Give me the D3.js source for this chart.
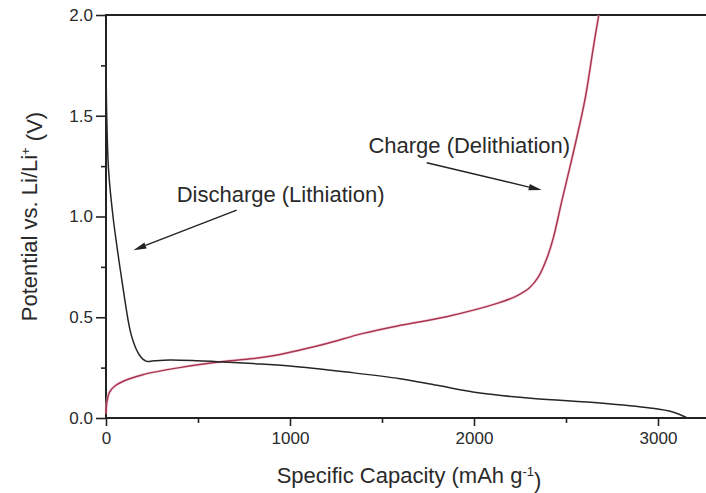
<!DOCTYPE html>
<html>
<head>
<meta charset="utf-8">
<script src="https://cdn.jsdelivr.net/npm/d3@7"></script>
<style>
  html, body { margin: 0; padding: 0; background: #fff; }
  svg { display: block; }
  text { font-family: "Liberation Sans", Arial, sans-serif; fill: #2a2a2a; }
</style>
</head>
<body>
<svg id="chart" width="706" height="493"></svg>
<script>
// Discharge (lithiation) curve: [capacity mAh/g, potential V]
const dischargeCurve = [
  [0, 1.78], [4, 1.5], [14, 1.23], [38, 1.0], [70, 0.784], [100, 0.6],
  [120, 0.486], [135, 0.42], [150, 0.375], [165, 0.34], [180, 0.315],
  [200, 0.292], [221, 0.281], [260, 0.284], [348, 0.288], [500, 0.284],
  [636, 0.278], [800, 0.27], [1000, 0.258], [1308, 0.228], [1598, 0.195],
  [1800, 0.162], [2033, 0.124], [2322, 0.097], [2685, 0.075],
  [2957, 0.05], [3080, 0.03], [3160, 0.0]
];

// Charge (delithiation) curve: [capacity mAh/g, potential V]
const chargeCurve = [
  [0, 0.02], [5, 0.08], [20, 0.13], [50, 0.16], [100, 0.185], [200, 0.215],
  [400, 0.25], [636, 0.28], [800, 0.295], [946, 0.315], [1054, 0.337],
  [1200, 0.37], [1397, 0.42], [1600, 0.46], [1851, 0.503],
  [2130, 0.57], [2230, 0.605], [2300, 0.645], [2350, 0.70], [2395, 0.79],
  [2430, 0.89], [2478, 1.08], [2543, 1.33], [2603, 1.58], [2647, 1.83],
  [2678, 2.0]
];

const xMajorTicks = [0, 1000, 2000, 3000];
const xMinorTicks = [500, 1500, 2500];
const yMajorTicks = [0.0, 0.5, 1.0, 1.5, 2.0];
const yMinorTicks = [0.25, 0.75, 1.25, 1.75];

// Annotation text and arrows in data units
const annotations = [
  { text: "Discharge (Lithiation)", tx: 384, ty: 1.073, from: [710, 1.032], to: [149, 0.833] },
  { text: "Charge (Delithiation)", tx: 1426, ty: 1.314, from: [1743, 1.267], to: [2368, 1.131] }
];

const svg = d3.select("#chart");
const x = d3.scaleLinear().domain([0, 3300]).range([106, 106 + 3300 * 0.184]);
const y = d3.scaleLinear().domain([0, 2]).range([418, 15]);

const axisColor = "#222";

// y axis (left)
svg.append("g").attr("transform", `translate(${x(0)},0)`)
  .call(d3.axisLeft(y).tickValues(yMajorTicks).tickFormat(d3.format(".1f")).tickSize(10).tickPadding(3));
svg.append("g").attr("transform", `translate(${x(0)},0)`)
  .call(d3.axisLeft(y).tickValues(yMinorTicks).tickFormat("").tickSize(5));

// x axis (bottom)
svg.append("g").attr("transform", `translate(0,${y(0)})`)
  .call(d3.axisBottom(x).tickValues(xMajorTicks).tickFormat(d3.format("d")).tickSize(8).tickPadding(6));
svg.append("g").attr("transform", `translate(0,${y(0)})`)
  .call(d3.axisBottom(x).tickValues(xMinorTicks).tickFormat("").tickSize(5));

svg.selectAll(".domain").remove();
svg.selectAll(".tick line").attr("stroke", axisColor).attr("stroke-width", 1.6);
svg.selectAll(".tick text").style("font-size", "17px").attr("fill", "#333")
  .style("font-family", "'Liberation Sans', Arial, sans-serif");

// frame lines: left, bottom, top
svg.append("line").attr("x1", x(0)).attr("x2", x(0)).attr("y1", y(2) - 1).attr("y2", y(0) + 1)
  .attr("stroke", axisColor).attr("stroke-width", 2);
svg.append("line").attr("x1", x(0) - 1).attr("x2", x(3300)).attr("y1", y(0)).attr("y2", y(0))
  .attr("stroke", axisColor).attr("stroke-width", 2);
svg.append("line").attr("x1", x(0) - 1).attr("x2", x(3300)).attr("y1", y(2)).attr("y2", y(2))
  .attr("stroke", axisColor).attr("stroke-width", 2);

// curves
const line = d3.line().x(d => x(d[0])).y(d => y(d[1])).curve(d3.curveCatmullRom.alpha(0.5));

svg.append("path").datum(chargeCurve)
  .attr("d", line).attr("fill", "none")
  .attr("stroke", "#f2b8c4").attr("stroke-width", 3).attr("stroke-opacity", 0.5);
svg.append("path").datum(chargeCurve)
  .attr("d", line).attr("fill", "none")
  .attr("stroke", "#a83452").attr("stroke-width", 1.5);

svg.append("path").datum(dischargeCurve)
  .attr("d", line).attr("fill", "none")
  .attr("stroke", "#262626").attr("stroke-width", 1.5);

// annotations with arrows
annotations.forEach(a => {
  svg.append("text").attr("x", x(a.tx)).attr("y", y(a.ty))
    .style("font-size", "22px").text(a.text);
  const x1 = x(a.from[0]), y1 = y(a.from[1]);
  const x2 = x(a.to[0]), y2 = y(a.to[1]);
  const ang = Math.atan2(y2 - y1, x2 - x1);
  const len = 13, half = 3.2;
  const bx = x2 - len * Math.cos(ang), by = y2 - len * Math.sin(ang);
  svg.append("line").attr("x1", x1).attr("y1", y1).attr("x2", bx).attr("y2", by)
    .attr("stroke", "#222").attr("stroke-width", 1.4);
  const px = -Math.sin(ang) * half, py = Math.cos(ang) * half;
  svg.append("path")
    .attr("d", `M${x2},${y2}L${bx + px},${by + py}L${bx - px},${by - py}Z`)
    .attr("fill", "#222");
});

// axis titles
const yTitle = svg.append("text")
  .attr("transform", `translate(37,${(y(0) + y(2)) / 2}) rotate(-90)`)
  .attr("text-anchor", "middle").style("font-size", "22px");
yTitle.append("tspan").text("Potential vs. Li/Li");
yTitle.append("tspan").attr("dy", "-0.55em").style("font-size", "13px").text("+");
yTitle.append("tspan").attr("dy", "0.55em").text(" (V)");

const xTitle = svg.append("text")
  .attr("x", 409).attr("y", 483)
  .attr("text-anchor", "middle").style("font-size", "22px");
xTitle.append("tspan").text("Specific Capacity (mAh g");
xTitle.append("tspan").attr("dy", "-0.55em").style("font-size", "13px").text("-1");
xTitle.append("tspan").attr("dy", "0.55em").text(")");
</script>
</body>
</html>
